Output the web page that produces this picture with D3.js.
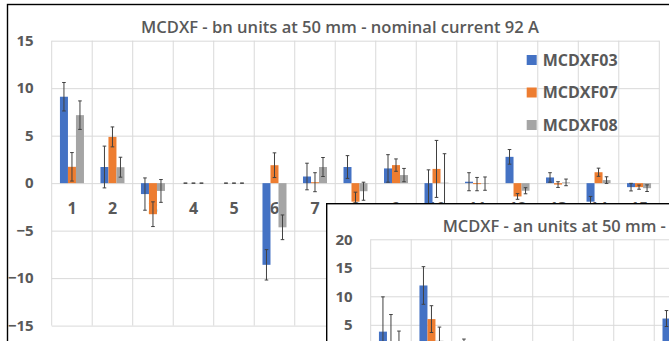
<!DOCTYPE html>
<html>
<head>
<meta charset="utf-8">
<script src="https://cdn.jsdelivr.net/npm/d3@7/dist/d3.min.js"></script>
<style>
  html, body { margin: 0; padding: 0; background: #fff; }
  svg { display: block; }
  text { font-family: "Open Sans", "Liberation Sans", sans-serif; fill: #595959; }
</style>
</head>
<body>
<svg id="chart" width="669" height="341"></svg>
<script>
// Harmonic index (categories) and series names
const categories = ["1","2","3","4","5","6","7","8","9","10","11","12","13","14","15"];
const series = ["MCDXF03", "MCDXF07", "MCDXF08"];
const colors = ["#4472C4", "#ED7D31", "#A5A5A5"];

// Normal harmonics bn (units) with error bar half-widths
const bn03    = [9.1, 1.7, -1.15, 0, 0, -8.6, 0.7, 1.7, 1.55, -2.5, 0.15, 2.77, 0.6, -1.95, -0.42];
const bn03Err = [1.5, 2.2, 1.7, 0, 0, 1.6, 1.4, 1.2, 1.45, 3.9, 0.95, 0.77, 0.5, 0.55, 0.4];
const bn07    = [1.72, 4.87, -3.27, 0, 0, 1.89, 0.1, -1.95, 1.9, 1.5, -0.1, -1.4, -0.15, 1.15, -0.42];
const bn07Err = [1.5, 1.05, 1.3, 0, 0, 1.3, 1.0, 1.0, 0.65, 3.0, 0.7, 0.3, 0.3, 0.43, 0.22];
const bn08    = [7.16, 1.68, -0.82, 0, 0, -4.65, 1.7, -0.85, 0.85, 0.05, -0.05, -0.8, 0.08, 0.32, -0.53];
const bn08Err = [1.5, 1.05, 1.2, 0, 0, 1.3, 1.0, 0.95, 0.7, 3.05, 0.7, 0.32, 0.35, 0.35, 0.35];
const bnTicks = [-15, -10, -5, 0, 5, 10, 15];

// Skew harmonics an (units) with error bar half-widths
const an03    = [3.8, 11.9, 0.3, 0.5, 0.4, 0.8, 0.6, 6.1];
const an03Err = [6.1, 3.3, 2.2, 0.6, 0.5, 0.7, 0.6, 1.4];
const an07    = [1.5, 6.0, 0.4, 0.3, 0.2, 0.5, 0.4, 1.0];
const an07Err = [5.3, 2.35, 0.8, 0.5, 0.4, 0.6, 0.5, 0.8];
const an08    = [0.5, 2.2, 0.2, 0.3, 0.2, 0.4, 0.3, 0.9];
const an08Err = [3.4, 2.4, 0.7, 0.5, 0.4, 0.5, 0.5, 0.7];
const anTicks = [0, 5, 10, 15, 20];

const titleBn = "MCDXF - bn units at 50 mm - nominal current 92 A";
const titleAn = "MCDXF - an units at 50 mm - nominal current 92 A";

const svg = d3.select("#chart");

// Draws one clustered bar chart with error bars inside a framed panel
function drawPanel(g, opt) {
  const { frame, plot, yDomain, ticks, sets, title, titleX, legend } = opt;

  g.append("rect")
    .attr("x", frame.x).attr("y", frame.y)
    .attr("width", frame.w).attr("height", frame.h)
    .attr("fill", "#fff").attr("stroke", "#000").attr("stroke-width", 1.4);

  const x0 = d3.scaleBand().domain(categories).range([plot.left, plot.right]).paddingInner(0).paddingOuter(0);
  const x1 = d3.scaleBand().domain(series).range([0, x0.bandwidth()]).paddingInner(0).paddingOuter(1.03);
  const y = d3.scaleLinear().domain(yDomain).range([plot.bottom, plot.top]);
  const yTop = y(d3.max(ticks)), yBot = y(d3.min(ticks));

  // horizontal gridlines
  g.append("g").attr("transform", `translate(${plot.left},0)`)
    .call(d3.axisLeft(y).tickValues(ticks).tickSize(-(plot.right - plot.left)).tickFormat(""))
    .call(a => a.select(".domain").remove())
    .call(a => a.selectAll("line").attr("stroke", "#D9D9D9").attr("stroke-width", 1));

  // vertical gridlines at category boundaries
  const bounds = categories.map(c => x0(c)).concat([plot.right]);
  g.append("g").selectAll("line").data(bounds).join("line")
    .attr("x1", d => d).attr("x2", d => d)
    .attr("y1", yTop).attr("y2", yBot)
    .attr("stroke", "#D9D9D9").attr("stroke-width", 1);

  // y tick labels
  g.append("g").attr("transform", `translate(${plot.left},0)`)
    .call(d3.axisLeft(y).tickValues(ticks.filter(t => y(t) < 341)).tickSize(0).tickPadding(opt.yPad))
    .call(a => a.select(".domain").remove())
    .call(a => a.selectAll("text")
      .style("font-family", '"Open Sans", sans-serif')
      .style("font-size", "15px").style("font-weight", "700").attr("fill", "#595959"));

  // x category labels sitting under the zero line
  if (opt.xLabels) {
    g.append("g").attr("transform", `translate(0,${y(0)})`)
      .call(d3.axisBottom(x0).tickSize(0).tickPadding(19))
      .call(a => a.select(".domain").remove())
      .call(a => a.selectAll("text")
        .style("font-family", '"Open Sans", sans-serif')
        .style("font-size", "16px").style("font-weight", "700").attr("fill", "#595959"));
  }

  // bars and error bars per series
  sets.forEach((s, si) => {
    const name = series[si];
    const rows = s.vals.map((v, i) => ({ cat: categories[i], v, e: s.errs[i] }));
    const sg = g.append("g");
    sg.selectAll("rect").data(rows).join("rect")
      .attr("x", d => x0(d.cat) + x1(name))
      .attr("width", x1.bandwidth())
      .attr("y", d => Math.min(y(d.v), y(0)))
      .attr("height", d => Math.abs(y(d.v) - y(0)))
      .attr("fill", colors[si]);

    const eg = sg.append("g").attr("stroke", "#404040").attr("stroke-width", 1).attr("fill", "none");
    const cx = d => x0(d.cat) + x1(name) + x1.bandwidth() / 2;
    const cap = 1.8;
    eg.selectAll(".stem").data(rows).join("line").attr("class", "stem")
      .attr("x1", cx).attr("x2", cx)
      .attr("y1", d => y(d.v + d.e)).attr("y2", d => y(d.v - d.e));
    eg.selectAll(".capT").data(rows).join("line").attr("class", "capT")
      .attr("x1", d => cx(d) - cap).attr("x2", d => cx(d) + cap)
      .attr("y1", d => y(d.v + d.e)).attr("y2", d => y(d.v + d.e));
    eg.selectAll(".capB").data(rows).join("line").attr("class", "capB")
      .attr("x1", d => cx(d) - cap).attr("x2", d => cx(d) + cap)
      .attr("y1", d => y(d.v - d.e)).attr("y2", d => y(d.v - d.e));
  });

  // title, sized so that its leading part (fitChars characters) spans fitWidth
  const t = g.append("text")
    .attr("x", titleX).attr("y", opt.titleY)
    .attr("text-anchor", opt.titleAnchor)
    .style("font-size", "16px").style("font-weight", "600")
    .text(title);
  const node = t.node();
  const n = opt.fitChars || title.length;
  const w = n >= title.length ? node.getComputedTextLength() : node.getSubStringLength(0, n);
  if (w > 0) t.style("font-size", (16 * opt.fitWidth / w).toFixed(2) + "px");

  // legend
  if (legend) {
    const lg = g.append("g");
    series.forEach((name, i) => {
      const cy = legend.y + i * legend.step;
      lg.append("rect").attr("x", legend.x).attr("y", cy - 5)
        .attr("width", 10).attr("height", 10).attr("fill", colors[i]);
      lg.append("text").attr("x", legend.x + 16).attr("y", cy).attr("dy", "0.36em")
        .style("font-size", "16px").style("font-weight", "700")
        .text(name);
    });
  }
}

// main panel: normal harmonics
drawPanel(svg.append("g"), {
  frame: { x: 7.5, y: 4.5, w: 700, h: 400 },
  plot: { left: 51.7, right: 659.3, top: 40.7, bottom: 325.6 },
  yDomain: [-15, 15], ticks: bnTicks, yPad: 18,
  sets: [ { vals: bn03, errs: bn03Err }, { vals: bn07, errs: bn07Err }, { vals: bn08, errs: bn08Err } ],
  title: titleBn, titleX: 340, titleY: 33.3, titleAnchor: "middle", fitWidth: 398,
  legend: { x: 526.7, y: 60, step: 32.5 },
  xLabels: true
});

// inset panel: skew harmonics, overlapping the lower right of the main panel
drawPanel(svg.append("g"), {
  frame: { x: 326.7, y: 203.7, w: 700, h: 400 },
  plot: { left: 370.7, right: 978.3, top: 239.3, bottom: 353.3 },
  yDomain: [0, 20], ticks: anTicks, yPad: 18,
  sets: [ { vals: an03, errs: an03Err }, { vals: an07, errs: an07Err }, { vals: an08, errs: an08Err } ],
  title: titleAn, titleX: 442.7, titleY: 231.7, titleAnchor: "start",
  fitChars: "MCDXF - an units at 50 mm -".length, fitWidth: 223.3,
  legend: null,
  xLabels: false
});
</script>
</body>
</html>
